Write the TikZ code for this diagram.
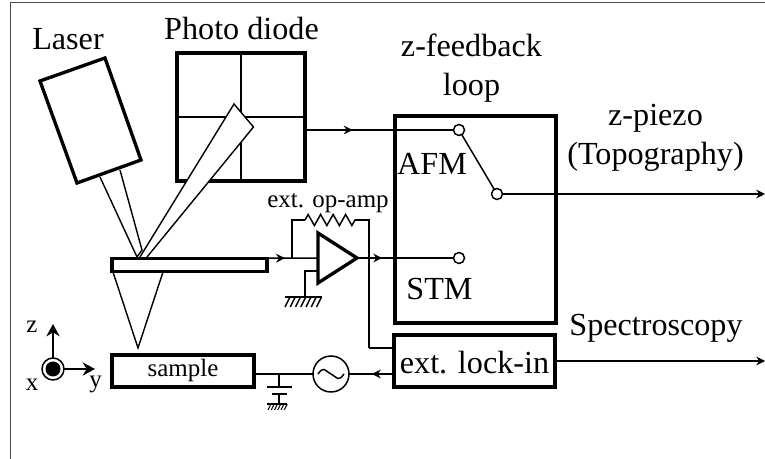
\documentclass[tikz,border=0pt]{standalone}
\usepackage{fontspec}
\setmainfont{Liberation Serif}
\usetikzlibrary{arrows.meta,decorations.markings,decorations.pathmorphing}

\tikzset{
	thickbox/.style={draw, line width=1.9pt, fill=white, inner sep=0pt, outer sep=0pt},
	wire/.style={line width=0.85pt},
	beam/.style={line width=0.8pt, fill=white},
	contact/.style={circle, draw, line width=0.85pt, fill=white, minimum size=0.22cm, inner sep=0pt, outer sep=0pt},
	midarrow/.style={postaction={decorate}, decoration={markings, mark=at position #1 with {\arrow{Stealth[length=5pt,width=5pt]}}}},
	endarrow/.style={-{Stealth[length=5pt,width=5pt]}},
	axisarrow/.style={-{Stealth[length=7pt,width=7.5pt]}},
	biglabel/.style={inner sep=0pt, font=\fontsize{18.3pt}{22pt}\selectfont, align=center},
	smalllabel/.style={inner sep=0pt, font=\fontsize{14.2pt}{16pt}\selectfont},
}

\begin{document}
\begin{tikzpicture}
	\useasboundingbox (0,0) rectangle (15.3,9.18);
	\draw[line width=0.8pt, draw=black!70] (0.21,-0.1) -- (0.21,9.13) -- (15.4,9.13);
	
	% Laser and its beam
	\draw[beam] (2,5.64) -- (2.74,4.04) -- (2.84,4.18) -- (2.4,5.78);
	\draw[thickbox] (0.8,7.56) -- (2.1,8.02) -- (2.82,5.98) -- (1.54,5.52) -- cycle;
	\node[biglabel, anchor=base] (laser) at (1.36,8.18) {Laser};
	
	% Photo diode
	\node[thickbox, minimum width=2.56cm, minimum height=2.56cm] (diode) at (4.82,6.84) {};
	\draw[wire] (diode.north) -- (diode.south);
	\draw[wire] (diode.west) -- (diode.east);
	\node[biglabel, anchor=base] (diodelabel) at (4.83,8.38) {Photo diode};
	
	% Reflected beam
	\draw[beam] (2.8,4.04) -- (4.68,7.1) -- (5.07,6.64) -- (2.94,4.04);
	
	% Cantilever and tip
	\draw[beam] (2.26,3.74) -- (2.76,2.22) -- (3.26,3.74);
	\node[thickbox, minimum width=3.1cm, minimum height=0.27cm] (cantilever) at (3.79,3.88) {};
	\node[thickbox, minimum width=2.84cm, minimum height=0.64cm, smalllabel, text height=0.4cm, text depth=0.16cm] (sample) at (3.66,1.76) {sample};
	
	% Feedback box
	\node[thickbox, minimum width=3.22cm, minimum height=4.14cm] (feedback) at (9.51,4.79) {};
	\node[biglabel] (feedbacklabel) at (9.43,7.82) {z-feedback\\loop};
	\node[biglabel, anchor=base] (afm) at (8.64,5.68) {AFM};
	\node[biglabel, anchor=base] (stm) at (8.79,3.18) {STM};
	\node[contact] (afmin) at (9.18,6.58) {};
	\node[contact] (switch) at (9.94,5.3) {};
	\node[contact] (stmin) at (9.18,4.02) {};
	\draw[wire] (afmin) -- (switch);
	
	% z-piezo output
	\coordinate (piezoend) at (15.3,5.3);
	\draw[wire, endarrow] (switch) -- (piezoend);
	\node[biglabel] (piezo) at (13.11,6.43) {z-piezo\\(Topography)};
	
	% Signal from the diode
	\draw[wire, midarrow=0.32] (diode.east |- afmin) -- (afmin);
	
	% Op-amp
	\coordinate (ampin) at (6.36,4.02);
	\coordinate (feedin) at (5.84,4.02);
	\coordinate (resleft) at (6.1,4.78);
	\coordinate (resright) at (7.1,4.78);
	\coordinate (feedout) at (7.38,4.02);
	\coordinate (lockinlevel) at (7.38,2.22);
	\coordinate (ampminus) at (6.36,3.76);
	\coordinate (groundtop) at (6.1,3.76);
	\coordinate (groundbase) at (6.1,3.24);
	\coordinate (ampout) at (7.14,4.02);
	\draw[wire, midarrow=0.35] (cantilever.north east) -- (ampin);
	\draw[wire] (feedin) |- (resleft);
	\draw[wire, decorate, decoration={zigzag, segment length=0.25cm, amplitude=0.11cm}] (resleft) -- (resright);
	\draw[wire] (resright) -| (feedout) -- (lockinlevel);
	\draw[wire, midarrow=0.26] (ampout) -- (stmin);
	\draw[wire] (ampminus) -- (groundtop) -- (groundbase);
	\draw[line width=1.9pt, fill=white, line join=miter] (6.36,4.52) -- (ampout) -- (6.36,3.52) -- cycle;
	\node[smalllabel, anchor=base] (oplabel) at (6.56,5.02) {ext. op-amp};
	\draw[wire] (5.7,3.24) -- (6.44,3.24);
	\foreach \i in {0,...,6}
		\draw[wire] (5.8+0.105*\i,3.24) -- ++(-0.1,-0.2);
	
	% Lock-in and source
	\node[thickbox, minimum width=3.22cm, minimum height=1.04cm, biglabel, text height=0.72cm, text depth=0.2cm] (lockin) at (9.49,1.96) {ext. lock-in};
	\draw[wire] (lockinlevel) -- (lockin.west |- lockinlevel);
	\coordinate (spectrumend) at (15.3,1.96);
	\draw[wire, endarrow] (lockin.east |- spectrumend) -- (spectrumend);
	\node[biglabel, anchor=base] (spectrum) at (13.12,2.46) {Spectroscopy};
	\node[circle, draw, line width=0.85pt, minimum size=0.72cm, inner sep=0pt, outer sep=0pt] (source) at (6.62,1.7) {};
	\draw[wire] ([xshift=-0.26cm]source.center) .. controls +(0.12,0.16) and +(-0.14,0.08) .. (source.center) .. controls +(0.14,-0.08) and +(-0.12,-0.16) .. ([xshift=0.26cm]source.center);
	\draw[wire, midarrow=0.49] (lockin.west |- source) -- (source);
	\draw[wire] (source) -- (sample.east |- source);
	
	% Capacitor to ground
	\coordinate (captop) at (5.58,1.7);
	\draw[wire] (captop) -- (5.58,1.44);
	\draw[wire] (5.34,1.44) -- (5.84,1.44);
	\draw[wire] (5.44,1.3) -- (5.74,1.3);
	\draw[wire] (5.58,1.3) -- (5.58,1.1);
	\draw[wire] (5.34,1.1) -- (5.74,1.1);
	\foreach \i in {0,...,5}
		\draw[line width=0.6pt] (5.42+0.065*\i,1.1) -- ++(-0.06,-0.12);
	
	% Axes
	\node[circle, draw, line width=0.85pt, minimum size=0.44cm, inner sep=0pt, outer sep=0pt] (axes) at (1.06,1.8) {};
	\fill (axes.center) circle (0.15);
	\coordinate (zend) at (1.06,2.7);
	\coordinate (yend) at (1.9,1.8);
	\draw[wire, axisarrow] (axes) -- (zend);
	\draw[wire, axisarrow] (axes) -- (yend);
	\node[smalllabel, anchor=base] (zlabel) at (0.64,2.52) {z};
	\node[smalllabel, anchor=base] (xlabel) at (0.64,1.36) {x};
	\node[smalllabel, anchor=base] (ylabel) at (1.91,1.42) {y};
\end{tikzpicture}
\end{document}
